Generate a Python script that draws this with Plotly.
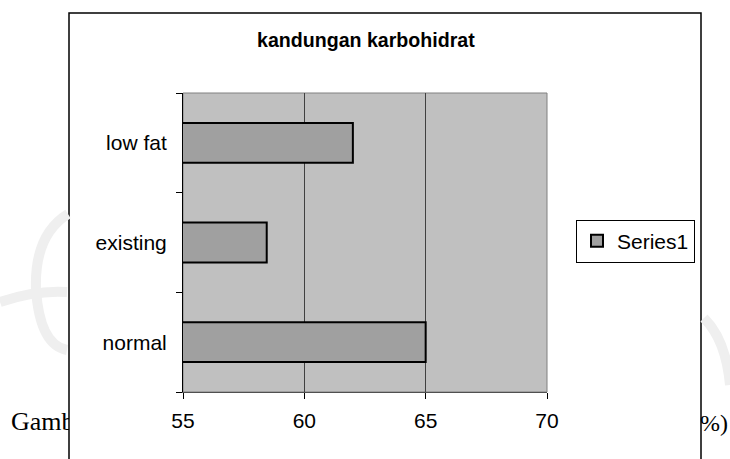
import plotly.graph_objects as go

categories = ["normal", "existing", "low fat"]
values = [65.0, 58.45, 62.0]
series_name = "Series1"
x_ticks = [55, 60, 65, 70]
title_text = "kandungan karbohidrat"

W, H = 730, 459
L, R, T, B = 183, 547, 93, 392


def X(px):
    return px / W


def Y(py):
    return 1 - py / H


fig = go.Figure()

fig.add_trace(go.Bar(
    y=categories, x=values, orientation="h", name=series_name,
    marker=dict(color="#a0a0a0", line=dict(color="black", width=2)),
))

# background document text, clipped by the chart frame
fig.add_trace(go.Scatter(
    x=[11], y=[423], text=["Gamb"], mode="text", textposition="middle right",
    textfont=dict(family="Liberation Serif", size=26, color="black"),
    xaxis="x2", yaxis="y2", showlegend=False, cliponaxis=True, hoverinfo="skip",
))

fig.update_layout(
    width=W, height=H,
    margin=dict(l=0, r=0, t=0, b=0, autoexpand=False),
    paper_bgcolor="white", plot_bgcolor="rgba(0,0,0,0)",
    bargap=0.6,
    font=dict(family="Liberation Sans", size=21, color="black"),
    xaxis=dict(domain=[X(L), X(R)], range=[55, 70], tickvals=x_ticks,
               ticks="outside", ticklen=6, tickcolor="black",
               showgrid=True, gridcolor="#404040", gridwidth=1,
               showline=True, linecolor="#505050", linewidth=1,
               zeroline=False, ticklabelstandoff=4, automargin=False,
               tickfont=dict(family="Liberation Sans", size=21)),
    yaxis=dict(domain=[Y(B), Y(T)], ticks="outside", ticklen=6, tickcolor="black",
               tickson="boundaries", showline=True, linecolor="black", linewidth=1,
               showgrid=False, ticklabelstandoff=11, automargin=False,
               categoryorder="array", categoryarray=categories,
               tickfont=dict(family="Liberation Sans", size=21)),
    xaxis2=dict(domain=[0, X(69)], range=[0, 69], visible=False, fixedrange=True,
                anchor="y2"),
    yaxis2=dict(domain=[0, 1], range=[H, 0], visible=False, fixedrange=True,
                anchor="x2"),
    legend=dict(x=X(576), y=Y(241), xref="paper", yref="paper",
                xanchor="left", yanchor="middle", itemwidth=30,
                bordercolor="black", borderwidth=1, bgcolor="white",
                font=dict(family="Liberation Sans", size=21)),
    showlegend=True,
)

# chart frame (extends below the picture)
fig.add_shape(type="rect", xref="paper", yref="paper",
              x0=X(69), x1=X(701), y0=-0.1, y1=Y(13),
              line=dict(color="black", width=1.5), fillcolor="white",
              layer="below")

# gray plot area with gray frame
fig.add_shape(type="rect", xref="x domain", yref="y domain",
              x0=0, x1=1, y0=0, y1=1, fillcolor="#c0c0c0",
              line=dict(color="#808080", width=1), layer="below")


# faint watermark strokes outside the chart frame
def path(points):
    s = "M %f,%f" % (X(points[0][0]), Y(points[0][1]))
    for i in range(1, len(points) - 1, 2):
        s += " Q %f,%f %f,%f" % (X(points[i][0]), Y(points[i][1]),
                                 X(points[i + 1][0]), Y(points[i + 1][1]))
    return s


wm = dict(color="#efefef", width=10)
fig.add_shape(type="path", xref="paper", yref="paper", layer="below",
              path=path([(68, 214), (34, 235), (36, 290), (40, 345), (67, 350)]),
              line=wm)
fig.add_shape(type="path", xref="paper", yref="paper", layer="below",
              path=path([(0, 302), (35, 290), (67, 292)]), line=wm)
fig.add_shape(type="path", xref="paper", yref="paper", layer="below",
              path=path([(704, 318), (726, 340), (730, 385)]), line=wm)

fig.add_annotation(text="<b>" + title_text + "</b>", xref="paper", yref="paper",
                   x=X(366), y=Y(40), xanchor="center", yanchor="middle",
                   showarrow=False,
                   font=dict(family="Liberation Sans", size=19.6, color="black"))

fig.add_annotation(text="%)", xref="paper", yref="paper", x=X(730), y=Y(423),
                   xanchor="right", yanchor="middle", showarrow=False,
                   font=dict(family="Liberation Serif", size=24, color="black"))

fig.write_html("out.html", config={"displayModeBar": False},
               post_script="document.body.style.margin='0';document.body.style.padding='0';")
